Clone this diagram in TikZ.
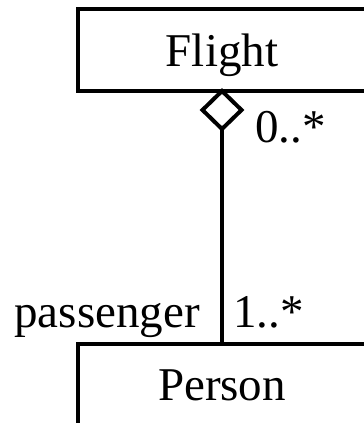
\documentclass[tikz,border=0pt]{standalone}
\usepackage{fontspec}
\setmainfont{Liberation Serif}
\usetikzlibrary{shapes.geometric}
\begin{document}
\begin{tikzpicture}[x=1pt,y=1pt,
  every node/.style={font=\fontsize{47}{56}\selectfont},
  classbox/.style={draw, line width=4pt, rectangle, minimum width=288pt, minimum height=82pt, inner sep=0pt, outer sep=0pt, text depth=0pt},
  aggr/.style={draw, line width=4pt, diamond, minimum width=39pt, minimum height=38pt, inner sep=0pt, outer sep=0pt},
  assoc/.style={line width=4pt},
  mult/.style={inner sep=0pt}]
\useasboundingbox (0,0) rectangle (364,-423);
\clip (0,0) rectangle (364,-423);
\node[classbox] (flight) at (222,-50) {Flight};
\node[classbox, anchor=north] (person) at (222,-344) {Person};
\node[aggr, anchor=north] (dia) at (flight.south) {};
\draw[assoc] (dia.south) -- (person.north);
\node[mult, anchor=base west] (m0) at (255,-142) {0..*};
\node[mult, anchor=base west] (m1) at (233,-327) {1..*};
\node[mult, anchor=base east] (role) at (200,-327) {passenger};
\end{tikzpicture}
\end{document}
